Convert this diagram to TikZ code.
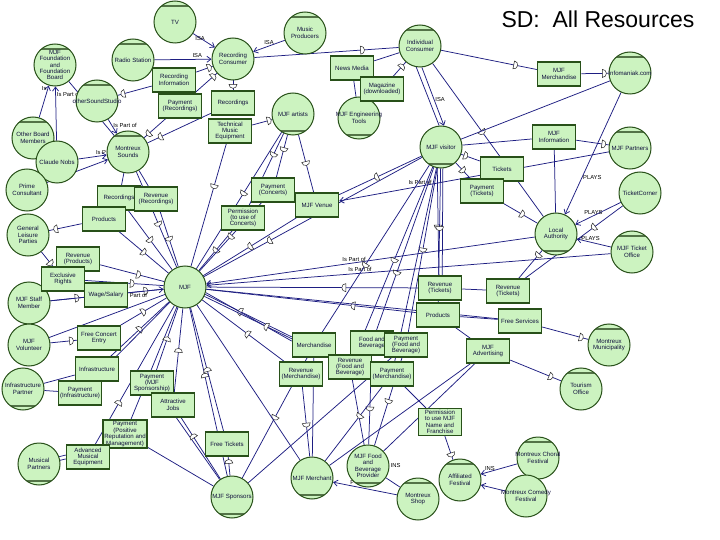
\documentclass[tikz,border=0pt]{standalone}
\usepackage{fontspec}
\setmainfont{Liberation Sans}
\usetikzlibrary{arrows.meta,decorations.markings}
\definecolor{lgreen}{RGB}{204,243,192}
\definecolor{agreen}{RGB}{40,80,25}
\definecolor{lnk}{RGB}{30,30,130}
\definecolor{ntext}{RGB}{15,15,60}
\newcommand\nfont{\fontsize{6.1}{6.4}\selectfont}
\newcommand\lfont{\fontsize{5.8}{6.2}\selectfont}
\newcommand\dmark{\draw[fill=white,draw=black!85,line width=0.5pt] (-2,-4) -- (-2,4) arc[start angle=90,end angle=-90,radius=4] -- cycle;}
\pgfdeclarelayer{back}
\pgfdeclarelayer{bg}
\pgfsetlayers{back,bg,main}
\tikzset{
 actor/.style={circle,draw=agreen,line width=1pt,fill=lgreen,minimum size=42pt,inner sep=-4pt,align=center,font=\nfont,text=ntext},
 ctop/.style={path picture={\draw[agreen!80,line width=1.5pt] ([yshift=-5pt]path picture bounding box.north west) -- ([yshift=-5pt]path picture bounding box.north east);}},
 cbot/.style={path picture={\draw[agreen!80,line width=1.5pt] ([yshift=4pt]path picture bounding box.south west) -- ([yshift=4pt]path picture bounding box.south east);}},
 res/.style={rectangle,draw=agreen,line width=1.5pt,fill=lgreen,minimum width=43pt,minimum height=24pt,inner sep=1.5pt,align=center,font=\nfont,text=ntext},
 link/.style={draw=lnk,line width=0.75pt},
 dep/.style={link,postaction={decorate,decoration={markings,mark=at position #1 with {\dmark}}}},
 dep/.default=0.5,
 lbl/.style={font=\lfont,text=black,inner sep=1pt},
 isp/.style={link,-{Straight Barb[length=4pt,width=6pt]}},
}
\begin{document}
\begin{tikzpicture}[x=1pt,y=-1pt]
\begin{pgfonlayer}{back}
\fill[white] (0,0) rectangle (720,540);
\end{pgfonlayer}
\useasboundingbox (0,0) rectangle (720,540);
\node[font=\fontsize{23}{26}\selectfont,anchor=base] (title) at (598,28) {SD:\ \ All Resources};
% actors
\node[actor,ctop] (tv) at (175,22) {TV};
\node[actor,ctop] (musprod) at (305,33) {Music\\Producers};
\node[actor,ctop] (found) at (55,65) {MJF\\Foundation\\and\\Foundation\\Board};
\node[actor,ctop] (radio) at (133,60) {Radio Station};
\node[actor] (reccons) at (233,59) {Recording\\Consumer};
\node[actor,ctop] (indcons) at (420,46) {Individual\\Consumer};
\node[actor,ctop] (web) at (630,73) {Infomaniak.com};
\node[actor,ctop] (othstudio) at (97,101) {otherSoundStudio};
\node[actor,cbot] (artists) at (293,114) {MJF artists};
\node[actor,cbot] (engtools) at (359,118) {MJF Engineering\\Tools};
\node[actor,ctop] (otherboard) at (33,138) {Other Board\\Members};
\node[actor] (nobs) at (57,162) {Claude Nobs};
\node[actor,ctop] (msounds) at (128,152) {Montreux\\Sounds};
\node[actor,cbot] (visitor) at (441,147) {MJF visitor};
\node[actor,ctop] (partners) at (630,148) {MJF Partners};
\node[actor] (tcorner) at (640,193) {TicketCorner};
\node[actor] (prime) at (27,190) {Prime\\Consultant};
\node[actor] (genleis) at (28,235) {General\\Leisure\\Parties};
\node[actor,cbot] (localauth) at (556,234) {Local\\Authority};
\node[actor,ctop] (tickoff) at (632,252) {MJF Ticket\\Office};
\node[actor] (staff) at (29,303) {MJF Staff\\Member};
\node[actor] (volunteer) at (29,345) {MJF\\Volunteer};
\node[actor] (mjf) at (185,287) {MJF};
\node[actor,ctop] (municip) at (609,345) {Montreux\\Municipality};
\node[actor,ctop] (tourism) at (581,389) {Tourism\\Office};
\node[actor,cbot] (infrapart) at (23,389) {Infrastructure\\Partner};
\node[actor,cbot] (muspart) at (39,464) {Musical\\Partners};
\node[actor,cbot] (sponsors) at (232,497) {MJF Sponsors};
\node[actor,cbot] (merchant) at (312,478) {MJF Merchant};
\node[actor,cbot] (fbprov) at (368,466) {MJF Food\\and\\Beverage\\Provider};
\node[actor,ctop] (shop) at (418,499) {Montreux\\Shop};
\node[actor,ctop] (affil) at (460,480) {Affiliated\\Festival};
\node[actor,ctop] (choral) at (538,458) {Montreux Choral\\Festival};
\node[actor] (comedy) at (526,496) {Montreux Comedy\\Festival};
% resources
\node[res] (recinfo) at (174,80) {Recording\\Information};
\node[res] (payrec) at (180,106) {Payment\\(Recordings)};
\node[res] (recA) at (233,103) {Recordings};
\node[res] (techeq) at (230,131) {Technical\\Music\\Equipment};
\node[res] (news) at (352,68) {News Media};
\node[res] (magaz) at (382,89) {Magazine\\(downloaded)};
\node[res] (mjfmerch) at (559,74) {MJF\\Merchandise};
\node[res] (mjfinfo) at (554,137) {MJF\\Information};
\node[res] (tickets) at (502,169) {Tickets};
\node[res] (paytick) at (482,191) {Payment\\(Tickets)};
\node[res] (payconc) at (273,190) {Payment\\(Concerts)};
\node[res] (recB) at (119,198) {Recordings};
\node[res] (revrec) at (156,199) {Revenue\\(Recordings)};
\node[res] (prodA) at (104,219) {Products};
\node[res] (permconc) at (243,218) {Permission\\(to use of\\Concerts)};
\node[res] (venue) at (317,205) {MJF Venue};
\node[res] (revprod) at (78,259) {Revenue\\(Products)};
\node[res] (exclr) at (63,279) {Exclusive\\Rights};
\node[res] (wage) at (106,295) {Wage/Salary};
\node[res] (freeentry) at (99,338) {Free Concert\\Entry};
\node[res] (infra) at (97,369) {Infrastructure};
\node[res] (payinfra) at (80,393) {Payment\\(Infrastructure)};
\node[res] (paysp) at (152,383) {Payment\\(MJF\\Sponsorship)};
\node[res] (attr) at (173,405) {Attractive\\Jobs};
\node[res] (payrep) at (125,434) {Payment\\(Positive\\Reputation and\\Management)};
\node[res] (advmus) at (88,457) {Advanced\\Musical\\Equipment};
\node[res] (freetick) at (227,444) {Free Tickets};
\node[res] (merch) at (314,345) {Merchandise};
\node[res] (fb) at (372,343) {Food and\\Beverage};
\node[res] (payfb) at (406,345) {Payment\\(Food and\\Beverage)};
\node[res] (revfb) at (350,367) {Revenue\\(Food and\\Beverage)};
\node[res] (paymerch) at (392,374) {Payment\\(Merchandise)};
\node[res] (revmerch) at (301,374) {Revenue\\(Merchandise)};
\node[res] (revtickA) at (440,288) {Revenue\\(Tickets)};
\node[res] (revtickB) at (508,291) {Revenue\\(Tickets)};
\node[res] (prodB) at (438,315) {Products};
\node[res] (freeserv) at (520,321) {Free Services};
\node[res] (advert) at (488,351) {MJF\\Advertising};
\node[res] (permname) at (440,422) {Permission\\to use MJF\\Name and\\Franchise};
\begin{pgfonlayer}{bg}
% top area
\draw[isp] (tv) -- node[lbl,pos=0.6,above left]{ISA} (reccons);
\draw[isp] (radio) -- node[lbl,pos=0.75,above]{ISA} (reccons);
\draw[isp] (musprod) -- node[lbl,pos=0.5,above]{ISA} (reccons);
\draw[dep=0.75] (reccons) -- (indcons);
\draw[dep=0.8] (recinfo) -- (reccons);
\draw[dep=0.85] (payrec) -- (reccons);
\draw[dep=0.6] (reccons) -- (recA);
\draw[dep=0.85] (recinfo) -- (othstudio);
\draw[isp] (othstudio) -- node[lbl,pos=0.45,right]{Is Part of} (msounds);
\draw[dep=0.8] (payrec) -- (msounds);
\draw[dep=0.8] (recA) -- (msounds);
\draw[link] (found) -- (msounds);
\draw[isp] (otherboard) -- node[lbl,pos=0.9,left]{Is} (found);
\draw[isp] (nobs) -- node[lbl,pos=0.85,right]{Is Part of} (found);
\draw[isp] (nobs) -- node[lbl,pos=0.8,above]{Is P} (msounds);
\draw[isp] (prime) -- (msounds);
\draw[dep=0.85] (techeq) -- (artists);
\draw[dep=0.35] (artists) -- (payconc);
\draw[dep=0.5] (artists) -- (venue);
\draw[dep=0.3] (artists) -- (permconc);
\draw[dep=0.45] (artists) -- (mjf);
\draw[dep=0.35] (techeq) -- (mjf);
\draw[link] (news) -- (engtools);
\draw[dep=0.7] (magaz) -- (indcons);
\draw[link] (indcons) -- (news);
\draw[link] (indcons.-100) -- (visitor.95);
\draw[isp] (indcons.-85) -- node[lbl,pos=0.55,right]{ISA} (visitor.82);
\draw[dep=0.78] (indcons) -- (mjfmerch);
\draw[dep=0.45] (indcons) -- (localauth);
\draw[dep=0.85] (mjfmerch) -- (web);
\draw[link] (web) -- (visitor);
\draw[isp] (web) -- node[lbl,pos=0.7,right]{PLAYS} (localauth);
\draw[dep=0.85] (mjfinfo) -- (partners);
\draw[link] (mjfinfo) -- (localauth);
\draw[dep=0.25] (visitor) -- (tickets);
\draw[link] (visitor) -- (mjfinfo);
\draw[dep=0.55] (paytick) -- (localauth);
\draw[dep=0.18] (localauth) -- (revtickB);
\draw[dep=0.3] (tcorner) -- (revtickB);
\draw[isp] (tcorner) -- node[lbl,pos=0.6,above]{PLAYS} (localauth);
\draw[isp] (tickoff) -- node[lbl,pos=0.6,above]{PLAYS} (localauth);
\draw[isp] (tickoff) -- node[lbl,pos=0.62,above]{Is Part of} (mjf);
\draw[isp] (localauth) -- node[lbl,pos=0.55,above]{Is Part of} (mjf);
\draw[isp] (partners) -- node[lbl,pos=0.7,above]{Is Part of} (venue);
% MJF visitor fan
\draw[dep=0.7] (visitor) -- (mjf);
\draw[dep=0.55] (visitor) -- (venue);
\draw[dep=0.55] (visitor.-100) -- (revtickA.95);
\draw[link] (visitor.-85) -- (revtickA.80);
\draw[dep=0.45] (visitor) -- (prodB);
\draw[dep=0.6] (visitor) -- (merch);
\draw[dep=0.65] (visitor) -- (fb);
\draw[dep=0.5] (visitor) -- (payfb);
\draw[dep=0.5] (visitor) -- (revfb);
\draw[link] (visitor) -- (paymerch);
\draw[dep=0.5] (visitor) -- (paytick);
\draw[link] (revtickA) -- (revtickB);
\draw[dep=0.35] (revtickA) -- (mjf);
\draw[dep=0.3] (prodB) -- (mjf);
\draw[link] (prodB) -- (freeserv);
\draw[link] (prodB) -- (advert);
\draw[dep=0.85] (freeserv) -- (municip);
\draw[dep=0.25] (freeserv) -- (mjf);
\draw[dep=0.8] (advert) -- (tourism);
\draw[link] (advert) -- (fbprov);
\draw[dep=0.6] (merch.160) -- (mjf.-20);
\draw[link] (merch.170) -- (mjf.-15);
\draw[link] (merch) -- (merchant);
\draw[dep=0.5] (merch) -- (sponsors);
\draw[dep=0.6] (fb) -- (fbprov);
\draw[dep=0.5] (payfb) -- (fbprov);
\draw[link] (payfb) -- (sponsors);
\draw[dep=0.5] (revfb) -- (mjf);
\draw[link] (revfb) -- (fbprov);
\draw[dep=0.4] (paymerch) -- (merchant);
\draw[link] (paymerch) -- (permname);
\draw[dep=0.45] (revmerch) -- (mjf);
\draw[dep=0.55] (revmerch) -- (merchant);
\draw[dep=0.8] (permname) -- (affil);
\draw[isp] (choral) -- node[lbl,pos=0.75,above]{INS} (affil);
\draw[isp] (comedy) -- (affil);
\draw[link] (fbprov) -- (shop);
\draw[isp] (shop) -- node[lbl,pos=0.7,above]{P} (merchant);
\node[lbl,right] (insl) at (fbprov.east) {INS};
% sponsors
\draw[dep=0.85] (sponsors) -- (paysp);
\draw[dep=0.75] (sponsors) -- (freetick);
\draw[dep=0.7] (sponsors) -- (attr);
\draw[dep=0.6] (sponsors) -- (mjf);
\draw[link] (muspart.10) -- (advmus.185);
\draw[link] (muspart.20) -- (advmus.175);
\draw[dep=0.3] (advmus) -- (mjf);
\draw[link] (payrep) -- (mjf);
\draw[link] (payrep) -- (sponsors);
\draw[link] (infrapart) -- (infra);
\draw[link] (infrapart) -- (payinfra);
\draw[dep=0.5] (infra) -- (mjf);
\draw[link] (payinfra) -- (mjf);
\draw[dep=0.8] (volunteer) -- (freeentry);
\draw[link] (volunteer) -- (mjf);
\draw[dep=0.5] (freeentry) -- (mjf);
\draw[dep=0.8] (staff) -- (wage);
\draw[dep=0.5] (wage) -- (mjf);
\draw[isp] (staff) -- node[lbl,pos=0.75,below]{Is Part of} (mjf);
\draw[dep=0.8] (prodA) -- (genleis);
\draw[dep=0.8] (genleis) -- (exclr);
\draw[dep=0.6] (revprod) -- (mjf);
\draw[dep=0.6] (exclr) -- (mjf);
\draw[dep=0.5] (prodA) -- (mjf);
\draw[dep=0.5] (recB) -- (mjf);
\draw[dep=0.5] (revrec) -- (mjf);
\draw[dep=0.55] (msounds) -- (mjf);
\draw[link] (msounds) -- (recB);
\draw[link] (msounds) -- (revrec);
\draw[dep=0.5] (permconc) -- (mjf);
\draw[dep=0.5] (payconc) -- (mjf);
\draw[dep=0.5] (venue) -- (mjf);
\draw[dep=0.5] (paysp) -- (mjf);
\draw[dep=0.5] (attr) -- (mjf);
\draw[dep=0.5] (freetick) -- (mjf);
\draw[link] (merchant) -- (mjf);
\draw[link] (merchant) -- (advert);
\end{pgfonlayer}
\end{tikzpicture}
\end{document}
